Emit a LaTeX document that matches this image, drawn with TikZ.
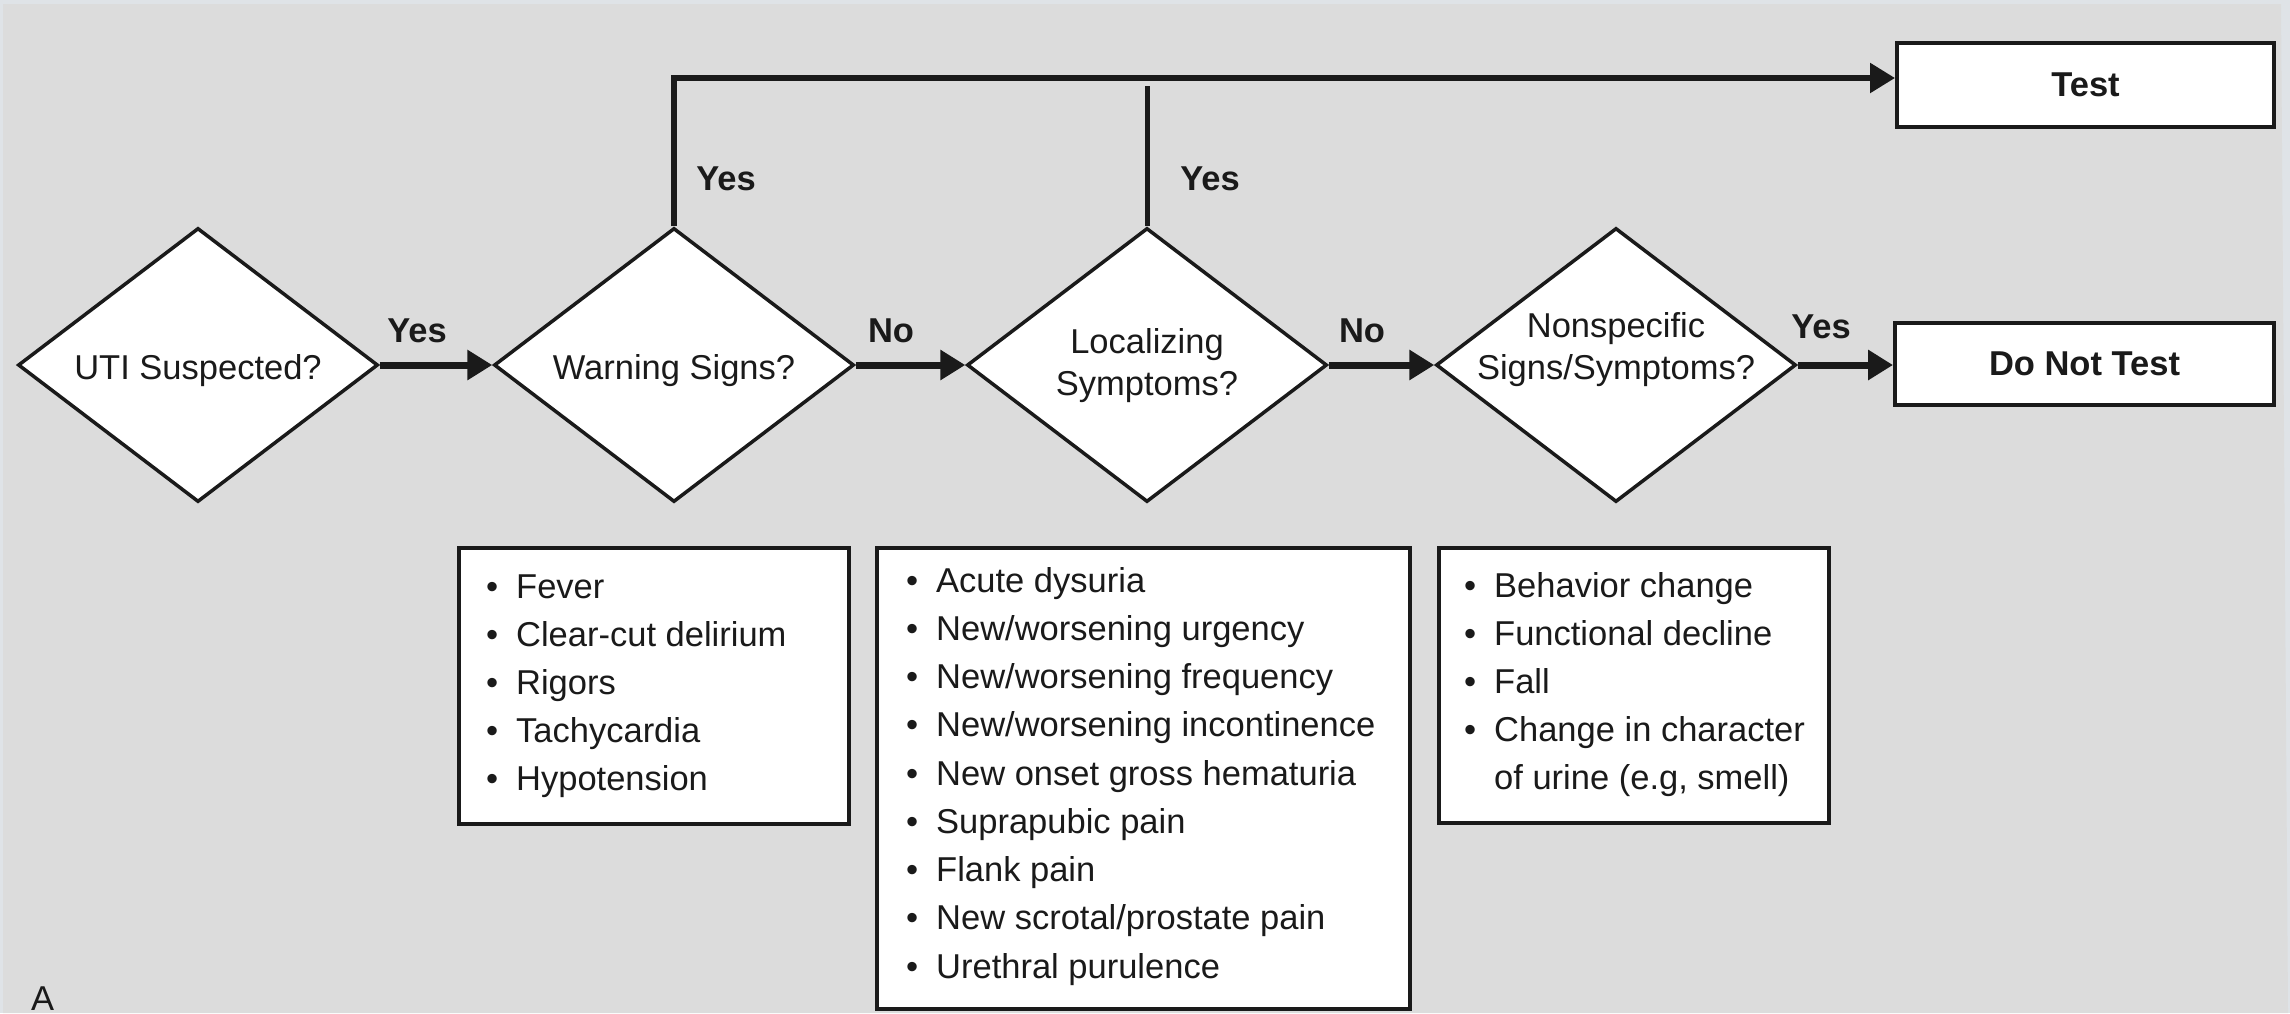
\documentclass[tikz,border=0pt]{standalone}
\usepackage{fontspec}
\setmainfont{Liberation Sans}
\usetikzlibrary{shapes.geometric,arrows.meta}
\definecolor{bg}{HTML}{DCDCDC}
\definecolor{rim}{HTML}{DFE3E7}
\definecolor{ink}{HTML}{1A1A1A}
\begin{document}
\begin{tikzpicture}[x=1pt,y=-1pt,
  font=\fontsize{34.5}{42}\selectfont,
  dia/.style={diamond, draw=ink, fill=white, line width=3.5pt,
    minimum width=360pt, minimum height=274pt, inner sep=0pt},
  dtext/.style={align=center, text=ink, inner sep=0pt},
  outbox/.style={rectangle, draw=ink, fill=white, line width=4pt, inner sep=0pt,
    font=\fontsize{34.5}{42}\selectfont\bfseries, text=ink},
  listbox/.style={rectangle, draw=ink, fill=white, line width=4pt, inner sep=0pt},
  entry/.style={anchor=base west, inner sep=0pt, text=ink},
  lab/.style={anchor=base, inner sep=0pt,
    font=\fontsize{34.5}{42}\selectfont\bfseries, text=ink},
  flow/.style={draw=ink, line width=7pt, -{Triangle[length=25pt,width=29pt]}},
  topflow/.style={draw=ink, line width=5.5pt, line join=miter,
    -{Triangle[length=25pt,width=29pt]}},
  stub/.style={draw=ink, line width=5pt}
]
\useasboundingbox (0,0) rectangle (2290,1013);
% background
\fill[rim] (0,0) rectangle (2290,1013);
\fill[bg] (3,4) -- (2281,4) -- (2288,1013) -- (3,1013) -- cycle;

% helper coordinates
\coordinate (topy) at (0,78);
\coordinate (d3end) at (0,86);

% decision diamonds
\node[dia, label={[dtext, yshift=-6pt]center:UTI Suspected?}] (d1) at (198,365) {};
\node[dia, label={[dtext, yshift=-6pt]center:Warning Signs?}] (d2) at (674,365) {};
\node[dia, label={[dtext, yshift=-1pt]center:Localizing\\Symptoms?}] (d3) at (1147,365) {};
\node[dia, label={[dtext, yshift=15pt]center:Nonspecific\\Signs/Symptoms?}] (d4) at (1616,365) {};

% outcome boxes
\node[outbox, minimum width=377pt, minimum height=84pt] (test) at (2085.5,85) {Test};
\node[outbox, minimum width=379pt, minimum height=82pt] (dnt) at (2084.5,364) {Do Not Test};

% list boxes
\node[listbox, minimum width=390pt, minimum height=276pt] (b1) at (654,686) {};
\node[listbox, minimum width=533pt, minimum height=461pt] (b2) at (1143.5,778.5) {};
\node[listbox, minimum width=390pt, minimum height=275pt] (b3) at (1634,685.5) {};

\newcommand{\bul}{\llap{\textbullet\hspace{18pt}}}
\foreach \t [count=\i from 0] in {Fever, Clear-cut delirium, Rigors, Tachycardia, Hypotension}
  \node[entry] (b1-\i) at (516,598+48.2*\i) {\bul\t};
\foreach \t [count=\i from 0] in {Acute dysuria, New/worsening urgency, New/worsening frequency,
   New/worsening incontinence, New onset gross hematuria, Suprapubic pain, Flank pain,
   New scrotal/prostate pain, Urethral purulence}
  \node[entry] (b2-\i) at (936,592+48.25*\i) {\bul\t};
\foreach \t [count=\i from 0] in {Behavior change, Functional decline, Fall, Change in character}
  \node[entry] (b3-\i) at (1494,597+48*\i) {\bul\t};
\node[entry] (b3-4) at (1494,789) {of urine (e.g, smell)};

% connectors
\draw[flow] (d1.east) -- (d2.west);
\draw[flow] (d2.east) -- (d3.west);
\draw[flow] (d3.east) -- (d4.west);
\draw[flow] (d4.east) -- (d4.east -| dnt.west);
\draw[topflow] (d2.north) |- (test.west |- topy);
\draw[stub] (d3.north) -- (d3.north |- d3end);

% connector labels
\node[lab] (l1) at (417,342) {Yes};
\node[lab] (l2) at (891,342) {No};
\node[lab] (l3) at (1362,342) {No};
\node[lab] (l4) at (1821,338) {Yes};
\node[lab] (l5) at (726,190) {Yes};
\node[lab] (l6) at (1210,190) {Yes};

% panel letter
\node[entry] (panel) at (31,1010) {A};
\end{tikzpicture}
\end{document}
